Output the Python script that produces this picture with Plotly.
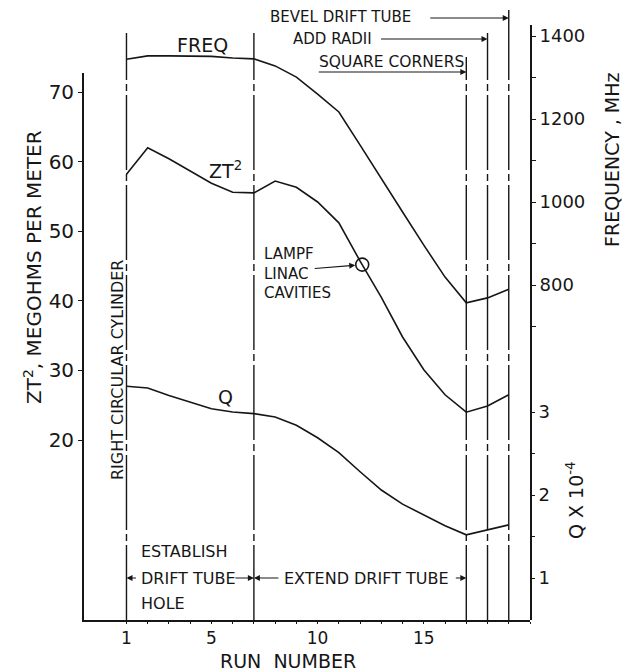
import plotly.graph_objects as go

# ---------------- data ----------------
runs = list(range(1, 20))
freq_mhz = [1344, 1352, 1352, 1352, 1351, 1347, 1345, 1328, 1301, 1260,
            1217, 1137, 1058, 976, 896, 819, 757, 769, 790]
zt2_megohm_per_m = [58.2, 62.0, 60.4, 58.6, 56.9, 55.6, 55.5, 57.2, 56.3, 54.2,
                    51.2, 45.7, 40.5, 34.8, 30.1, 26.5, 24.0, 24.9, 26.5]
q_x1e4 = [3.31, 3.29, 3.20, 3.12, 3.04, 3.00, 2.98, 2.94, 2.84, 2.69,
          2.51, 2.28, 2.06, 1.89, 1.76, 1.63, 1.52, 1.58, 1.64]

lampf_run = [12.1]
lampf_zt2 = [45.2]

milestone_runs = [1, 7, 17, 18, 19]

x_tick_vals = list(range(1, 21))
x_tick_text = ["1", "", "", "", "5", "", "", "", "", "10",
               "", "", "", "", "15", "", "", "", "", ""]
zt2_tick_vals = [20, 30, 40, 50, 60, 70]
zt2_tick_text = ["20", "30", "40", "50", "60", "70"]
freq_tick_vals = [700, 800, 900, 1000, 1100, 1200, 1300, 1400]
freq_tick_text = ["", "800", "", "1000", "", "1200", "", "1400"]
q_tick_vals = [1, 1.5, 2, 2.5, 3]
q_tick_text = ["1", "", "2", "", "3"]

# ---------------- layout geometry ----------------
W, H = 625, 672
PL, PT, PW, PH = 84, 8, 446, 612
BOTTOM = PT + PH


def fx(px):
    return (px - PL) / PW


def fy(py):
    return (BOTTOM - py) / PH


def axis_range(v_a, py_a, v_b, py_b, top_px):
    per_px = (v_a - v_b) / (py_b - py_a)
    lo = v_b - (BOTTOM - py_b) * per_px
    hi = v_a + (py_a - top_px) * per_px
    return [lo, hi]


INK = "#161616"
FONT = "DejaVu Sans"

fig = go.Figure()

line_style = dict(color=INK, width=1.6)
fig.add_trace(go.Scatter(x=runs, y=freq_mhz, mode="lines", line=line_style,
                         xaxis="x", yaxis="y2", hoverinfo="skip"))
fig.add_trace(go.Scatter(x=runs, y=q_x1e4, mode="lines", line=line_style,
                         xaxis="x", yaxis="y3", hoverinfo="skip"))
fig.add_trace(go.Scatter(x=runs, y=zt2_megohm_per_m, mode="lines", line=line_style,
                         xaxis="x", yaxis="y", hoverinfo="skip"))
fig.add_trace(go.Scatter(x=lampf_run, y=lampf_zt2, mode="markers",
                         marker=dict(symbol="circle-open", size=13,
                                     line=dict(color=INK, width=1.6), color=INK),
                         xaxis="x", yaxis="y", hoverinfo="skip"))

# vertical milestone lines
tops_px = [33, 33, 57, 33, 10]
dash = "75px,4px,7px,4px"
for r, tp in zip(milestone_runs, tops_px):
    fig.add_shape(type="line", xref="x", yref="paper", x0=r, x1=r,
                  y0=0, y1=fy(tp), line=dict(color=INK, width=1.4, dash=dash))

ann = []


def text(t, px, py, size=16, xanchor="center", angle=0, align="left"):
    ann.append(dict(text=t, x=fx(px), y=fy(py), xref="paper", yref="paper",
                    showarrow=False, xanchor=xanchor, yanchor="middle",
                    textangle=angle, align=align,
                    font=dict(family=FONT, size=size, color=INK)))


def arrow(run, py, ax, ay=0):
    ann.append(dict(text="", x=run, y=fy(py), xref="x", yref="paper",
                    showarrow=True, ax=ax, ay=ay,
                    arrowhead=2, arrowsize=1, arrowwidth=1.2, arrowcolor=INK,
                    standoff=0, font=dict(family=FONT, size=10, color=INK)))


# curve labels
text("FREQ", 202, 45, size=19)
text("ZT<sup>2</sup>", 225, 170, size=19)
text("Q", 225, 397, size=19)

# top legends with arrows
text("BEVEL DRIFT TUBE", 268, 17, size=15, xanchor="left")
arrow(milestone_runs[4], 18, -80)
text("ADD RADII", 291, 39, size=15, xanchor="left")
arrow(milestone_runs[3], 39, -108)
text("SQUARE CORNERS", 317, 62, size=15.5, xanchor="left")
arrow(milestone_runs[2], 72, -149)

# LAMPF note
text("LAMPF<br>LINAC<br>CAVITIES", 262, 273, size=15, xanchor="left")
ann.append(dict(text="", x=lampf_run[0], y=lampf_zt2[0], xref="x", yref="y",
                showarrow=True, ax=-49, ay=4, arrowhead=2, arrowsize=1,
                arrowwidth=1.2, arrowcolor=INK, standoff=7,
                font=dict(family=FONT, size=10, color=INK)))

# bottom notes
text("RIGHT CIRCULAR CYLINDER", 117, 370, size=16, angle=-90)
text("ESTABLISH", 139, 551, size=16, xanchor="left")
text("DRIFT TUBE", 139, 578, size=16, xanchor="left")
text("HOLE", 139, 603, size=16, xanchor="left")
arrow(milestone_runs[0], 578, 11)
arrow(milestone_runs[1], 578, -20)
text("EXTEND DRIFT TUBE", 282, 578, size=16, xanchor="left")
arrow(milestone_runs[1], 578, 26)
arrow(milestone_runs[2], 578, -12)

# axis titles
text("ZT<sup>2</sup>, MEGOHMS PER METER", 33, 267, size=20, angle=-90)
text("FREQUENCY , MHz", 612, 160, size=19, angle=-90)
text("Q X 10<sup>-4</sup>", 575, 500, size=19, angle=-90)
text("RUN  NUMBER", 288, 661, size=19)

tickfont = dict(family=FONT, size=20, color=INK)
xfont = dict(family=FONT, size=17, color=INK)
rfont = dict(family=FONT, size=18, color=INK)

fig.update_layout(
    width=W, height=H,
    margin=dict(l=PL, r=W - PL - PW, t=PT, b=H - PT - PH),
    paper_bgcolor="white", plot_bgcolor="rgba(0,0,0,0)",
    showlegend=False,
    annotations=ann,
    xaxis=dict(range=[-1, 20], domain=[0, 1], anchor="y",
               showgrid=False, zeroline=False, showline=True,
               linecolor=INK, linewidth=1.6,
               tickmode="array", tickvals=x_tick_vals, ticktext=x_tick_text,
               ticks="outside", ticklen=2, tickwidth=1.4, tickcolor=INK,
               tickfont=xfont),
    yaxis=dict(range=axis_range(70, 92, 20, 440, 73), domain=[0, fy(73)],
               anchor="x", side="left",
               showgrid=False, zeroline=False, showline=True,
               linecolor=INK, linewidth=1.8,
               tickmode="array", tickvals=zt2_tick_vals, ticktext=zt2_tick_text,
               ticks="outside", ticklen=4, tickwidth=1.4, tickcolor=INK,
               tickfont=tickfont),
    yaxis2=dict(range=axis_range(1400, 36, 800, 285, 25), domain=[0, fy(25)],
                anchor="x", side="right",
                showgrid=False, zeroline=False, showline=True,
                linecolor=INK, linewidth=1.8,
                tickmode="array", tickvals=freq_tick_vals, ticktext=freq_tick_text,
                ticks="outside", ticklen=4, tickwidth=1.4, tickcolor=INK,
                tickfont=rfont),
    yaxis3=dict(range=axis_range(3, 412, 1, 578, 25), overlaying="y2",
                anchor="x", side="right",
                showgrid=False, zeroline=False, showline=False,
                tickmode="array", tickvals=q_tick_vals, ticktext=q_tick_text,
                ticks="outside", ticklen=4, tickwidth=1.4, tickcolor=INK,
                tickfont=rfont),
)

fig.write_html("out.html")
